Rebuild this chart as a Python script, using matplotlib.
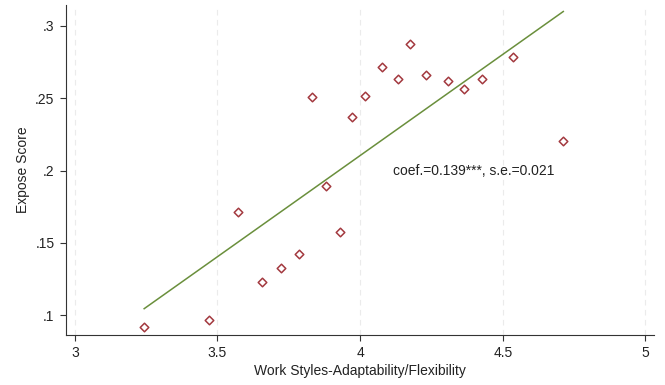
import numpy as np
import matplotlib
matplotlib.use("Agg")
import matplotlib.pyplot as plt

plt.rcParams['font.family'] = ['Liberation Sans', 'DejaVu Sans']

adaptability = [3.243, 3.470, 3.572, 3.655, 3.721, 3.785, 3.831, 3.882, 3.931, 3.972,
                4.018, 4.076, 4.131, 4.174, 4.232, 4.309, 4.365, 4.427, 4.535, 4.712]
expose = [0.0921, 0.0969, 0.1714, 0.1228, 0.1328, 0.1421, 0.2507, 0.1893, 0.1575, 0.2371,
          0.2514, 0.2714, 0.2636, 0.2873, 0.2663, 0.2620, 0.2564, 0.2636, 0.2788, 0.2203]
x_ticks = [3, 3.5, 4, 4.5, 5]
x_tick_labels = ["3", "3.5", "4", "4.5", "5"]
y_ticks = [0.1, 0.15, 0.2, 0.25, 0.3]
y_tick_labels = [".1", ".15", ".2", ".25", ".3"]
annotation = "coef.=0.139***, s.e.=0.021"

x = np.array(adaptability)
y = np.array(expose)
slope, intercept = np.polyfit(x, y, 1)
xl = np.array([x.min(), x.max()])

fig = plt.figure(figsize=(6.65, 3.85), dpi=100)
ax = fig.add_axes([0.0988, 0.1299, 0.8847, 0.8571])

for t in x_ticks:
    ax.axvline(t, color='#ebebeb', lw=0.8, ls=(0, (5, 4)), zorder=0)

ax.plot(xl, intercept + slope * xl, color='#6a8f3c', lw=1.1, zorder=2)
ax.scatter(x, y, marker='D', s=19, facecolors='white', edgecolors='#a3393f', linewidths=1.1, zorder=3)

ax.text(4.116, 0.2, annotation, fontsize=10, va='center', ha='left', color='#222222')

ax.set_xlim(2.968, 5.03)
ax.set_ylim(0.0863, 0.3145)
ax.set_xticks(x_ticks)
ax.set_xticklabels(x_tick_labels)
ax.set_yticks(y_ticks)
ax.set_yticklabels(y_tick_labels)
ax.tick_params(labelsize=10, length=4, width=0.8, color='#333333', pad=4, labelcolor='#222222')
for s in ['top', 'right']:
    ax.spines[s].set_visible(False)
for s in ['left', 'bottom']:
    ax.spines[s].set_color('#333333')
    ax.spines[s].set_linewidth(0.8)

ax.set_xlabel("Work Styles-Adaptability/Flexibility", fontsize=10, labelpad=3, color='#222222')
ax.set_ylabel("Expose Score", fontsize=10, labelpad=4, color='#222222')

fig.savefig("out.png", dpi=100)
